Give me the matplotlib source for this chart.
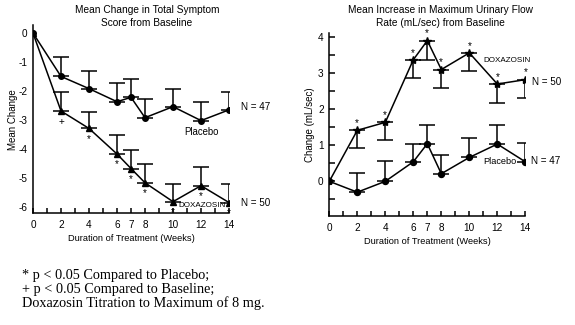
import matplotlib
matplotlib.use("Agg")
import matplotlib.pyplot as plt
from matplotlib.ticker import MultipleLocator, FixedLocator

# ---------------- data ----------------
weeks = [0, 2, 4, 6, 7, 8, 10, 12, 14]
tick_weeks = [0, 2, 4, 6, 7, 8, 10, 12, 14]

# Left: Mean change in total symptom score
sym_placebo = [0, -1.49, -1.91, -2.36, -2.21, -2.91, -2.53, -3.01, -2.64]
sym_placebo_err = [0, 0.66, 0.62, 0.64, 0.64, 0.63, 0.62, 0.65, 0.63]
sym_doxa = [0, -2.68, -3.28, -4.16, -4.66, -5.15, -5.80, -5.25, -5.83]
sym_doxa_err = [0, 0.67, 0.56, 0.65, 0.64, 0.64, 0.60, 0.63, 0.63]
sym_marks = ["", "+", "*", "*", "*", "*", "*", "*", "*"]

# Right: Mean increase in max urinary flow rate
flow_doxa = [0, 1.41, 1.63, 3.36, 3.89, 3.09, 3.55, 2.69, 2.81]
flow_doxa_err = [0, 0.48, 0.50, 0.51, 0.53, 0.52, 0.51, 0.53, 0.51]
flow_placebo = [0, -0.30, 0.00, 0.54, 1.04, 0.21, 0.66, 1.03, 0.54]
flow_placebo_err = [0, 0.54, 0.56, 0.50, 0.52, 0.52, 0.53, 0.52, 0.51]
flow_marks = ["", "*", "*", "*", "*", "*", "*", "*", "*"]

footnotes = ["* p < 0.05 Compared to Placebo;",
             "+ p < 0.05 Compared to Baseline;",
             "Doxazosin Titration to Maximum of 8 mg."]

SANS = ["Liberation Sans", "DejaVu Sans"]
plt.rcParams["font.family"] = SANS
plt.rcParams["axes.unicode_minus"] = False

fig = plt.figure(figsize=(5.75, 3.25), dpi=100)
fig.patch.set_facecolor("white")

ax1 = fig.add_axes([0.0574, 0.3437, 0.3409, 0.5794])
ax2 = fig.add_axes([0.5727, 0.3363, 0.3409, 0.5622])

FS_TICK = 7.2
FS_LAB = 6.7
FS_TITLE = 7.3
FS_N = 7.1
FS_DOXA = 5.8
LW = 1.1


def style(ax):
    for s in ["top", "right"]:
        ax.spines[s].set_visible(False)
    for s in ["left", "bottom"]:
        ax.spines[s].set_linewidth(LW)
    ax.set_xlim(0, 14)
    ax.xaxis.set_major_locator(FixedLocator(tick_weeks))
    ax.xaxis.set_minor_locator(MultipleLocator(1))
    ax.tick_params(axis="x", which="both", direction="in", length=3.5,
                   width=LW, labelsize=FS_TICK, pad=5)
    ax.set_xlabel("Duration of Treatment (Weeks)", fontsize=FS_LAB, labelpad=3)


def err_down(ax, x, y, e):
    ax.errorbar(x, y, yerr=[e, [0] * len(e)], fmt="none", ecolor="black",
                elinewidth=LW, capsize=5.5, capthick=LW)


def err_up(ax, x, y, e):
    ax.errorbar(x, y, yerr=[[0] * len(e), e], fmt="none", ecolor="black",
                elinewidth=LW, capsize=5.5, capthick=LW)


# ---- left panel ----
style(ax1)
ax1.set_ylim(-6.2, 0.28)
ax1.set_yticks([0, -1, -2, -3, -4, -5, -6])
ax1.tick_params(axis="y", length=0, labelsize=FS_TICK, pad=4)
err_up(ax1, weeks[1:], sym_placebo[1:], sym_placebo_err[1:])
err_up(ax1, weeks[1:], sym_doxa[1:], sym_doxa_err[1:])
ax1.plot(weeks, sym_placebo, color="black", lw=LW, marker="o", ms=4)
ax1.plot(weeks, sym_doxa, color="black", lw=LW, marker="^", ms=5)
for x, y, m in zip(weeks, sym_doxa, sym_marks):
    if m:
        ax1.annotate(m, (x, y), xytext=(0, -4), textcoords="offset points",
                     ha="center", va="top", fontsize=FS_TICK)
ax1.set_ylabel("Mean Change", fontsize=FS_LAB + 0.3)
ax1.yaxis.set_label_coords(-0.077, 0.5)
ax1.text(14.85, -2.55, "N = 47", fontsize=FS_N, va="center")
ax1.text(14.85, -5.83, "N = 50", fontsize=FS_N, va="center")
ax1.text(10.8, -3.41, "Placebo", fontsize=FS_N - 0.2, va="center")
ax1.text(10.36, -5.93, "DOXAZOSIN", fontsize=FS_DOXA, va="center")

# ---- right panel ----
style(ax2)
ax2.set_ylim(-0.95, 4.1)
ax2.set_yticks([0, 1, 2, 3, 4])
ax2.yaxis.set_minor_locator(MultipleLocator(0.5))
ax2.tick_params(axis="y", which="both", direction="in", length=4,
                width=LW, labelsize=FS_TICK, pad=4)
err_down(ax2, weeks[1:], flow_doxa[1:], flow_doxa_err[1:])
err_up(ax2, weeks[1:], flow_placebo[1:], flow_placebo_err[1:])
ax2.plot(weeks, flow_doxa, color="black", lw=LW, marker="*", ms=6)
ax2.plot(weeks, flow_placebo, color="black", lw=LW, marker="o", ms=4.3)
for x, y, m in zip(weeks, flow_doxa, flow_marks):
    if m:
        ax2.annotate(m, (x, y), xytext=(0, 1.5), textcoords="offset points",
                     ha="center", va="bottom", fontsize=FS_TICK)
ax2.set_ylabel("Change (mL/sec)", fontsize=FS_LAB + 0.3)
ax2.yaxis.set_label_coords(-0.073, 0.5)
ax2.text(10.98, 3.33, "DOXAZOSIN", fontsize=FS_DOXA, va="center")
ax2.text(14.48, 2.75, "N = 50", fontsize=FS_N, va="center")
ax2.text(10.98, 0.56, "Placebo", fontsize=FS_N - 0.5, va="center")
ax2.text(14.4, 0.56, "N = 47", fontsize=FS_N, va="center")

# ---- titles (placed in figure pixels like the reference) ----
fig.text(147 / 575, 1 - 10 / 325, "Mean Change in Total Symptom",
         ha="center", va="center", fontsize=FS_TITLE)
fig.text(147 / 575, 1 - 23 / 325, "Score from Baseline",
         ha="center", va="center", fontsize=FS_TITLE)
fig.text(440 / 575, 1 - 10 / 325, "Mean Increase in Maximum Urinary Flow",
         ha="center", va="center", fontsize=FS_TITLE)
fig.text(440 / 575, 1 - 23 / 325, "Rate (mL/sec) from Baseline",
         ha="center", va="center", fontsize=FS_TITLE)

# ---- footnotes ----
for i, line in enumerate(footnotes):
    fig.text(22 / 575, 1 - (275 + 14 * i) / 325, line,
             family=["Liberation Serif", "DejaVu Serif"], fontsize=10.3,
             va="center", ha="left")

fig.savefig("out.png", dpi=100, facecolor="white")
